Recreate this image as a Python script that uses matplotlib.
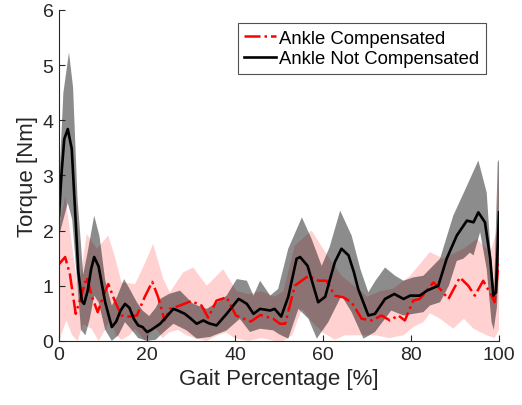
import matplotlib
matplotlib.use('Agg')
import matplotlib.pyplot as plt

plt.rcParams['font.family'] = ['Liberation Sans', 'DejaVu Sans']

# Ankle not compensated: mean and band edges (gait %, torque Nm)
nc_x = [0, 0.6, 1.2, 2, 2.9, 3.6, 4.4, 5.2, 5.7, 6.5, 7.3, 8, 9, 10.5, 12, 13, 14, 15,
        16, 17, 18, 19, 20, 21, 23, 24, 26, 27, 28.6, 30, 31.3, 32.8, 34, 35.8, 38.1,
        40.8, 41.5, 42.7, 44.2, 45.7, 48, 49, 50.5, 52.1, 53.2, 54, 54.8, 56.5, 57.8,
        58.9, 60.5, 61.7, 62.7, 64.2, 65.8, 67, 68, 70.3, 71.8, 74.1, 76.2, 78.3, 79.8,
        82, 83.6, 86.2, 88.1, 90.4, 92.7, 94.2, 95.3, 96.8, 98, 98.7, 99.3, 100]
nc_mean = [2.27, 3.06, 3.66, 3.84, 3.48, 2.45, 1.25, 0.72, 0.67, 0.9, 1.3, 1.52, 1.35,
           0.7, 0.25, 0.35, 0.55, 0.67, 0.6, 0.4, 0.28, 0.25, 0.16, 0.2, 0.31, 0.4, 0.58,
           0.55, 0.49, 0.4, 0.31, 0.37, 0.32, 0.28, 0.49, 0.76, 0.73, 0.67, 0.49, 0.58,
           0.55, 0.58, 0.44, 0.8, 1.2, 1.49, 1.52, 1.36, 1.0, 0.7, 0.8, 1.15, 1.43, 1.67,
           1.55, 1.25, 0.94, 0.46, 0.49, 0.76, 0.85, 0.76, 0.82, 0.82, 0.91, 1.0, 1.49,
           1.91, 2.18, 2.15, 2.33, 2.15, 1.49, 0.82, 0.88, 2.33]

nc_up_x = [0, 1, 2.27, 3.2, 4.2, 5.5, 6.5, 8, 9.2, 10.5, 12, 13.2, 14.8, 16, 17.7, 19,
           20.5, 22, 23, 25, 27.5, 30.5, 33.6, 36, 38.1, 40.4, 42.7, 44.2, 45.7, 48,
           49.8, 52.1, 55.2, 57.4, 59.7, 61.5, 63.9, 66.5, 68.5, 70.3, 72, 74.1, 76.4,
           78.3, 80.5, 82.8, 86.6, 89.6, 92.7, 95.3, 97.2, 98.3, 98.9, 99.7, 100]
nc_upper = [2.8, 4.5, 5.23, 4.6, 2.6, 1.2, 1.6, 2.27, 1.9, 1.1, 0.64, 0.8, 1.12, 0.95,
            0.7, 0.55, 0.45, 0.6, 0.76, 0.85, 0.91, 0.67, 0.58, 0.7, 0.82, 1.12, 1.09,
            0.82, 1.09, 0.82, 0.94, 1.67, 2.24, 1.85, 1.36, 1.7, 2.36, 1.91, 1.3, 0.88,
            1.1, 1.33, 1.18, 1.09, 1.15, 1.18, 1.49, 2.27, 2.81, 3.27, 2.69, 1.36, 0.95,
            3.24, 3.28]

nc_lo_x = [0, 1, 2, 3, 4, 5, 6, 7, 8, 9, 10.5, 12, 13.5, 15, 16.5, 18, 20, 22, 23, 26,
           29, 31.3, 34.3, 38.1, 41.1, 43.4, 45.7, 48.7, 50, 52.1, 54.4, 56.7, 58.6,
           61.2, 64.2, 66.5, 69.2, 71.8, 75.5, 78.3, 82.8, 84.3, 86.6, 88.6, 90.4, 91.9,
           93.4, 94.2, 95.7, 97.2, 98.3, 98.8, 99.5, 100]
nc_lower = [1.9, 2.2, 2.5, 2.2, 1.2, 0.2, 0.1, 0.4, 0.82, 0.7, 0.2, 0.0, 0.1, 0.34, 0.2,
            0.05, 0.0, 0.02, 0.1, 0.31, 0.19, 0.04, 0.07, 0.19, 0.4, 0.16, 0.22, 0.19,
            0.12, 0.04, 0.58, 0.4, 0.04, 0.34, 0.82, 0.52, 0.04, 0.16, 0.55, 0.46, 0.52,
            0.64, 0.7, 1.0, 1.45, 1.49, 1.6, 1.55, 1.97, 1.3, 0.34, 0.2, 0.6, 1.4]

# Ankle compensated
c_x = [0, 1.4, 2.5, 3.8, 5, 6.3, 7.5, 8.8, 10, 11.2, 12.8, 14.2, 16, 17.7, 19.5, 21.2,
       22.5, 24, 25.2, 27.5, 30, 32.4, 33.9, 35.8, 38.1, 40.2, 43.6, 45.8, 48.7, 50.2,
       51.4, 53.6, 56.7, 59, 60.8, 62.7, 64.6, 66.5, 68.8, 71.1, 73.3, 75.2, 77.1, 78.6,
       80.5, 82, 85.1, 86.6, 88.5, 91.1, 93, 94.5, 96.4, 98.3, 99, 100]
c_mean = [1.39, 1.52, 1.2, 0.49, 0.8, 1.15, 0.8, 0.52, 0.8, 1.03, 0.7, 0.46, 0.44, 0.46,
          0.8, 1.07, 0.8, 0.37, 0.58, 0.64, 0.72, 0.64, 0.42, 0.73, 0.79, 0.46, 0.35,
          0.47, 0.4, 0.31, 0.31, 1.0, 1.18, 1.09, 1.09, 0.82, 0.79, 0.7, 0.4, 0.37, 0.46,
          0.37, 0.46, 0.37, 0.73, 0.76, 1.06, 0.94, 0.76, 1.15, 1.0, 0.82, 1.09, 0.82,
          0.7, 1.49]

c_up_x = [0, 1.4, 2.5, 4.4, 6.3, 8.6, 11.2, 12.8, 14.2, 17.3, 19.5, 21.4, 23.7, 25.2,
          28.2, 30.5, 33.6, 37.3, 40.4, 43, 46, 49, 51, 53.6, 57.4, 60.5, 64.2, 67, 70,
          73, 76, 79.8, 84.3, 87.3, 91.9, 95, 98, 99.5, 100]
c_upper = [2.0, 2.63, 2.0, 0.88, 1.94, 1.67, 1.91, 1.5, 1.06, 1.03, 1.4, 1.76, 1.12,
           0.88, 1.24, 1.33, 1.0, 1.3, 0.9, 0.85, 0.9, 0.8, 0.9, 1.73, 2.0, 1.61, 1.18,
           1.0, 0.8, 0.9, 0.95, 1.18, 1.61, 1.49, 1.67, 1.85, 1.6, 2.0, 3.3]

c_lo_x = [0, 1.7, 3, 4.2, 5.5, 7.4, 9, 10.5, 11.6, 13, 14.2, 16, 17.3, 19.5, 21.8, 23.5,
          25, 27, 29, 31, 33.6, 36, 38, 40, 43, 46, 49, 51, 53, 55.2, 57.5, 60, 62.7, 65,
          68.8, 72, 75, 78.3, 80.5, 82.8, 84.3, 86.6, 89.6, 92, 94.2, 97.2, 99, 100]
c_lower = [0.0, 0.37, 0.1, 0.0, 0.3, 0.22, 0.0, 0.2, 0.4, 0.1, 0.02, 0.1, 0.22, 0.0,
           0.25, 0.05, 0.15, 0.2, 0.1, 0.05, 0.0, 0.1, 0.15, 0.05, 0.0, 0.05, 0.0, 0.0,
           0.1, 0.58, 0.34, 0.15, 0.02, 0.1, 0.1, 0.1, 0.05, 0.1, 0.25, 0.34, 0.5, 0.4,
           0.22, 0.4, 0.22, 0.1, 0.05, 0.2]


def band(ax, up_x, up, lo_x, lo, **kw):
    # polygon: upper edge left->right, lower edge right->left
    xs = list(up_x) + list(lo_x)[::-1]
    ys = list(up) + list(lo)[::-1]
    ax.fill(xs, ys, linewidth=0, **kw)


fig = plt.figure(figsize=(5.22, 4.06), dpi=100)
ax = fig.add_axes([0.113, 0.158, 0.843, 0.815])

band(ax, c_up_x, c_upper, c_lo_x, c_lower, color='#ff0000', alpha=0.18)
band(ax, nc_up_x, nc_upper, nc_lo_x, nc_lower, color='k', alpha=0.45)
ax.plot(c_x, c_mean, color='#ff0000', linestyle='-.', linewidth=1.8,
        solid_joinstyle='round', dash_joinstyle='round',
        label='Ankle Compensated')
ax.plot(nc_x, nc_mean, color='k', linestyle='-', linewidth=1.9,
        solid_joinstyle='round', label='Ankle Not Compensated')

ax.set_xlim(0, 100)
ax.set_ylim(0, 6)
ax.set_xticks([0, 20, 40, 60, 80, 100])
ax.set_yticks([0, 1, 2, 3, 4, 5, 6])
ax.tick_params(direction='in', length=4, width=0.8, labelsize=14,
               colors='#262626', top=False, right=False, pad=4)
for s in ['top', 'right']:
    ax.spines[s].set_visible(False)
for s in ['left', 'bottom']:
    ax.spines[s].set_color('#262626')
    ax.spines[s].set_linewidth(0.8)

ax.set_xlabel('Gait Percentage [%]', fontsize=16, color='#262626', labelpad=3)
ax.set_ylabel('Torque [Nm]', fontsize=16, color='#262626', labelpad=3)

leg = ax.legend(loc='upper right', bbox_to_anchor=(0.97, 0.96), fontsize=13.3,
                frameon=True, fancybox=False, edgecolor='#262626',
                handlelength=1.7, handletextpad=0.2, borderpad=0.35,
                labelspacing=0.2, borderaxespad=0)
leg.get_frame().set_linewidth(0.8)

fig.savefig('out.png', dpi=100)
